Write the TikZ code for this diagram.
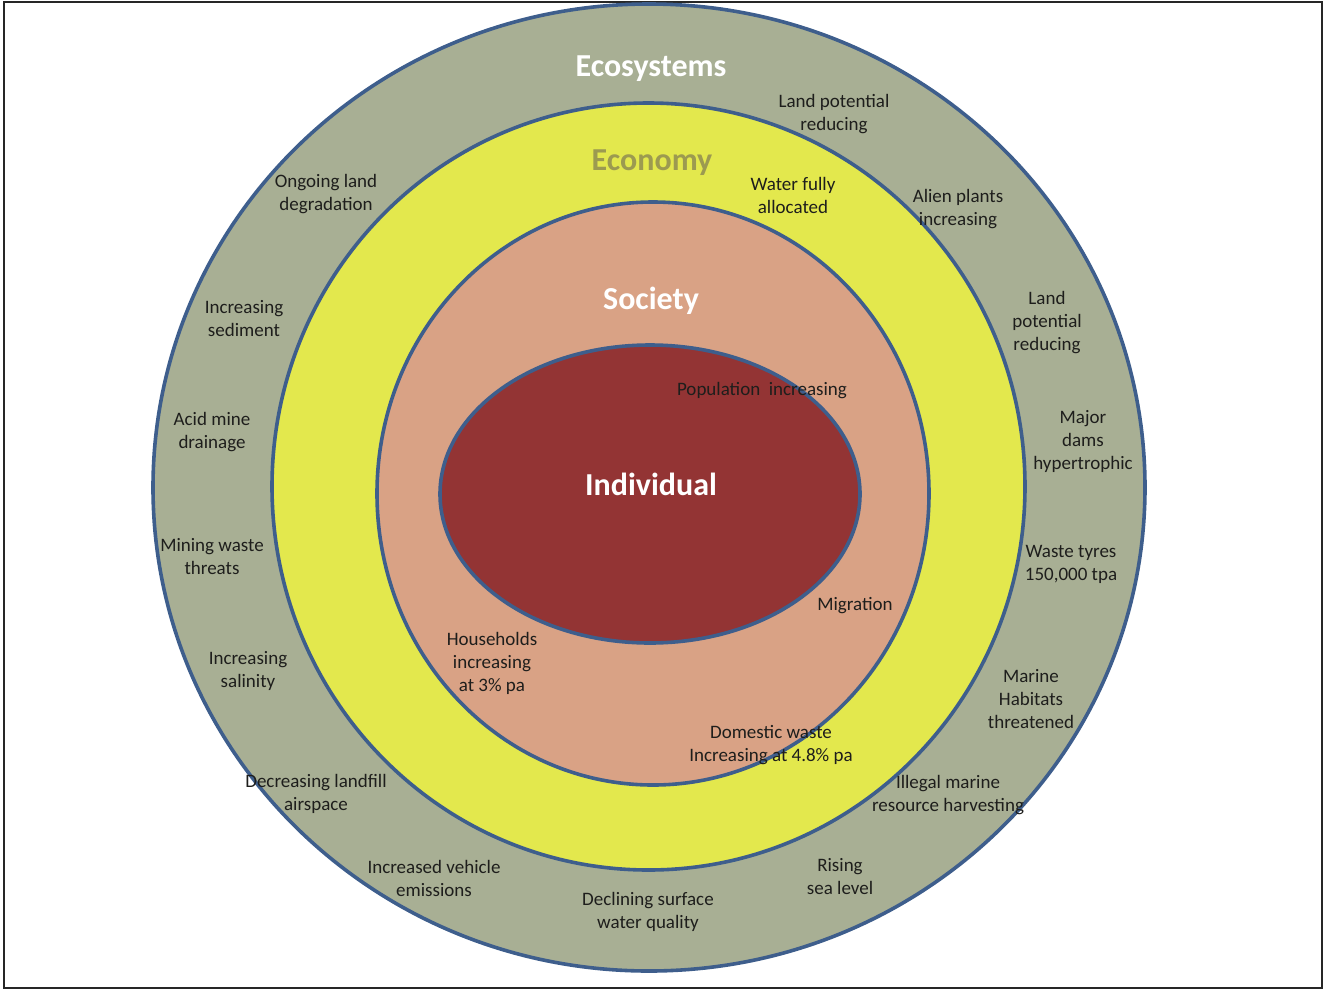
\documentclass[tikz,border=0pt]{standalone}
\usepackage{fontspec}
\setmainfont{Carlito}
\usepackage{xcolor}
\usetikzlibrary{positioning}

\definecolor{ecofill}{RGB}{168,175,148}
\definecolor{econfill}{RGB}{227,232,77}
\definecolor{socfill}{RGB}{217,162,133}
\definecolor{indfill}{RGB}{147,52,52}
\definecolor{ringline}{RGB}{62,94,140}
\definecolor{econtext}{RGB}{156,154,80}
\definecolor{lbltext}{RGB}{30,30,28}

\begin{document}
\begin{tikzpicture}[x=1pt,y=-1pt,
        ring/.style={draw=ringline,line width=3.6pt},
        title/.style={font=\fontsize{32}{36}\selectfont\bfseries,inner sep=0pt},
        lbl/.style={font=\fontsize{19}{23}\selectfont,align=center,
          text=lbltext,inner sep=0pt}]
        \useasboundingbox (0,0) rectangle (1323,989);
        \draw[black!85,line width=2pt] (4,1.5) rectangle (1321.5,987.5);

        % the four rings, outside in
        \draw[ring,fill=ecofill]  (649,487.5) ellipse [x radius=496,y radius=483.5];
        \draw[ring,fill=econfill] (648.5,486.5) ellipse [x radius=376.5,y radius=383.5];
        \draw[ring,fill=socfill]  (653,493.5) ellipse [x radius=276,y radius=291.5];
        \draw[ring,fill=indfill]  (650,494) ellipse [x radius=210,y radius=149];

        \node[title,text=white]    (eco)   at (651,69)  {Ecosystems};
        \node[title,text=econtext] (econ)  at (652,163) {Economy};
        \node[title,text=white]    (soc)   at (651,301) {Society};
        \node[title,text=white]    (indiv) at (651,484) {Individual};

        % pressures
        \node[lbl] (landtop)   at (834,114) {Land potential\\reducing};
        \node[lbl] (water)     at (793,195) {Water fully\\allocated};
        \node[lbl] (ongoing)   at (326,194) {Ongoing land\\degradation};
        \node[lbl] (alien)     at (958,209) {Alien plants\\increasing};
        \node[lbl] (sediment)  at (244,319) {Increasing\\sediment};
        \node[lbl] (landright) at (1047,323) {Land\\potential\\reducing};
        \node[lbl] (acid)      at (212,432) {Acid mine\\drainage};
        \node[lbl] (dams)      at (1083,441) {Major\\dams\\hypertrophic};
        \node[lbl] (popul)     at (762,391) {Population\ \ increasing};
        \node[lbl] (mining)    at (212,557) {Mining waste\\threats};
        \node[lbl] (tyres)     at (1071,564) {Waste tyres\\150,000 tpa};
        \node[lbl] (migr)      at (855,606) {Migration};
        \node[lbl] (house)     at (492,663) {Households\\increasing\\at 3\% pa};
        \node[lbl] (salinity)  at (248,671) {Increasing\\salinity};
        \node[lbl] (marine)    at (1031,699) {Marine\\Habitats\\threatened};
        \node[lbl] (domestic)  at (771,745) {Domestic waste\\Increasing at 4.8\% pa};
        \node[lbl] (landfill)  at (316,794) {Decreasing landfill\\airspace};
        \node[lbl] (illegal)   at (948,795) {Illegal marine\\resource harvesting};
        \node[lbl] (vehicle)   at (434,878) {Increased vehicle\\emissions};
        \node[lbl] (sea)       at (840,877) {Rising\\sea level};
        \node[lbl] (surface)   at (648,912) {Declining surface\\water quality};
\end{tikzpicture}
\end{document}
